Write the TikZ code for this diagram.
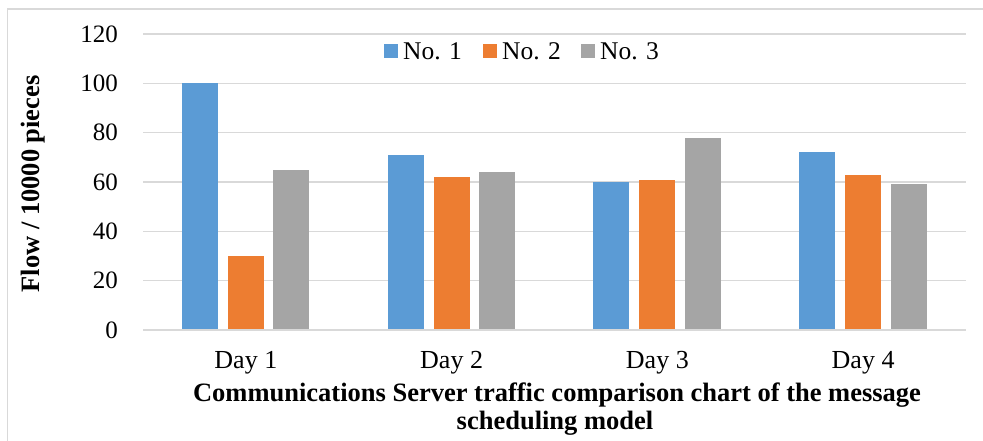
\documentclass[tikz,border=0pt]{standalone}
\usepackage{fontspec}
\setmainfont{Liberation Serif}
\definecolor{serA}{HTML}{5B9BD5}
\definecolor{serB}{HTML}{ED7D31}
\definecolor{serC}{HTML}{A5A5A5}
\definecolor{gridc}{HTML}{D9D9D9}
\tikzset{
  gridline/.style={draw=gridc, line width=1.5pt},
  ticklab/.style={anchor=east, inner sep=0pt, font=\fontsize{25}{30}\selectfont},
  catlab/.style={inner sep=0pt, font=\fontsize{26}{31}\selectfont},
  titlelab/.style={inner sep=0pt, font=\fontsize{26.5}{31}\selectfont\bfseries},
  legsq/.style={minimum size=14pt, inner sep=0pt, draw=none},
  leglab/.style={anchor=west, inner sep=0pt, font=\fontsize{25.5}{30}\selectfont},
}
\begin{document}
\begin{tikzpicture}[x=1pt,y=1pt]
\useasboundingbox (0,0) rectangle (983,441);
\fill[white] (0,0) rectangle (983,441);
% chart area border
\draw[gridline] (7.5,0) -- (7.5,432) -- (983,432);
% gridlines and tick labels
\foreach \v in {0,20,...,120} {
  \draw[gridline] (143,{111+2.467*\v}) -- (966,{111+2.467*\v});
  \node[ticklab] (tick\v) at (118,{111+2.467*\v}) {\v};
}
% bars
\foreach \i/\a/\b/\c/\lab in {0/100/30/65/Day 1,1/71/62/64/Day 2,2/60/61/78/Day 3,3/72/63/59/Day 4} {
  \pgfmathsetmacro{\cx}{143+205.75*(\i+0.5)}
  \fill[serA] ({\cx-64},111) rectangle ({\cx-28},{111+2.467*\a});
  \fill[serB] ({\cx-18},111) rectangle ({\cx+18},{111+2.467*\b});
  \fill[serC] ({\cx+27.5},111) rectangle ({\cx+63.5},{111+2.467*\c});
  \node[catlab] (cat\i) at (\cx,78) {\lab};
}
\draw[gridline] (143,111) -- (966,111);
% axis titles
\node[titlelab, rotate=90] (ytitle) at (33,257) {Flow / 10000 pieces};
\node[titlelab] (xtitle1) at (557,46) {Communications Server traffic comparison chart of the message};
\node[titlelab] (xtitle2) at (555,18) {scheduling model};
% legend
\node[legsq, fill=serA] (legA) at (391,390) {};
\node[leglab] (legAt) at (403,390) {No. 1};
\node[legsq, fill=serB] (legB) at (490,390) {};
\node[leglab] (legBt) at (502,390) {No. 2};
\node[legsq, fill=serC] (legC) at (588,390) {};
\node[leglab] (legCt) at (600,390) {No. 3};
\end{tikzpicture}
\end{document}
